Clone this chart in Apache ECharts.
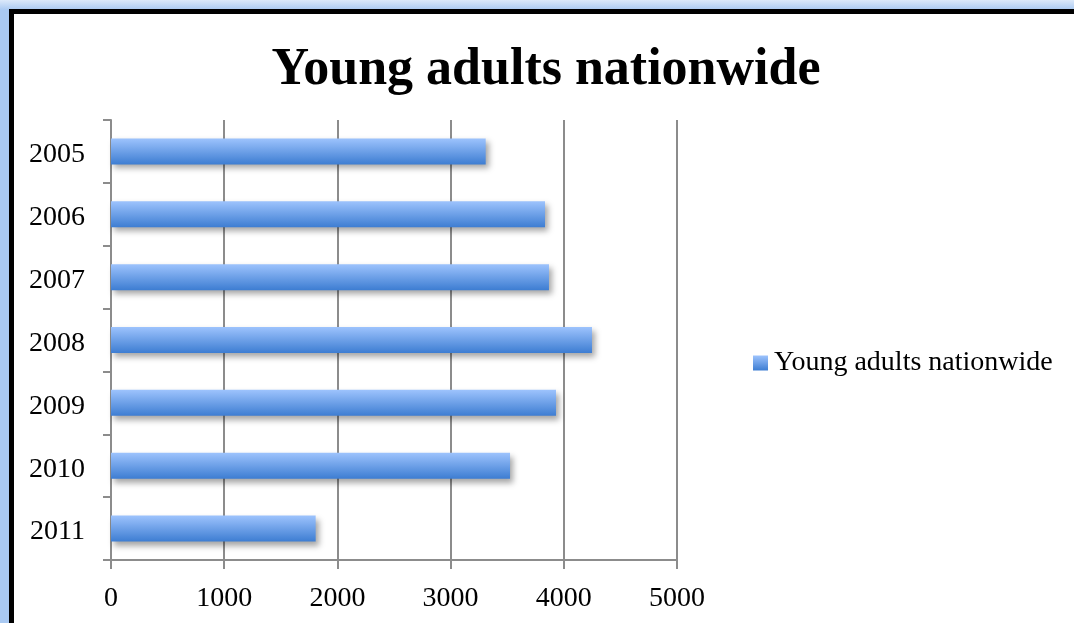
<!DOCTYPE html>
<html>
<head>
<meta charset="utf-8">
<script src="https://cdn.jsdelivr.net/npm/echarts@6/dist/echarts.min.js"></script>
<style>
  html, body { margin: 0; padding: 0; width: 1074px; height: 623px; overflow: hidden; background: #ffffff; }
  #glow { position: absolute; left: 0; top: 0; width: 1074px; height: 623px;
          background: linear-gradient(to bottom, #dce9fa 0px, #a9c9f2 10px, #a9c9f2 100%); }
  #frame { position: absolute; left: 9px; top: 9px; width: 1100px; height: 700px;
           background: #ffffff; border-left: 5px solid #000; border-top: 5px solid #000;
           box-sizing: border-box; }
  #chart { position: absolute; left: 0; top: 0; width: 1074px; height: 623px; }
</style>
</head>
<body>
<div id="glow"></div>
<div id="frame"></div>
<div id="chart"></div>
<script>
const titleText = 'Young adults nationwide';
const seriesName = 'Young adults nationwide';
const years = ['2005', '2006', '2007', '2008', '2009', '2010', '2011'];
const values = [3310, 3834, 3869, 4249, 3931, 3525, 1808];
const xTicks = [0, 1000, 2000, 3000, 4000, 5000];

const FONT = "'Liberation Serif', 'DejaVu Serif', serif";
const chart = echarts.init(document.getElementById('chart'), null, { renderer: 'canvas' });
const barColor = new echarts.graphic.LinearGradient(0, 0, 0, 1, [
  { offset: 0, color: '#9dc3fd' },
  { offset: 1, color: '#3d7dd2' }
]);
chart.setOption({
  backgroundColor: 'transparent',
  animation: false,
  title: {
    text: titleText,
    left: 546,
    textAlign: 'center',
    top: 45,
    padding: 0,
    textStyle: { fontFamily: FONT, fontWeight: 'bold', fontSize: 52, color: '#000' }
  },
  legend: {
    data: [seriesName],
    left: 748,
    top: 344,
    icon: 'rect',
    itemWidth: 15,
    itemHeight: 15,
    itemGap: 5,
    textStyle: { fontFamily: FONT, fontSize: 28, color: '#000', padding: [0, 0, 0, 1] }
  },
  grid: { left: 111, right: 397, top: 120, bottom: 63, containLabel: false },
  xAxis: {
    type: 'value',
    min: xTicks[0],
    max: xTicks[xTicks.length - 1],
    interval: 1000,
    axisLine: { show: true, lineStyle: { color: '#8c8c8c', width: 2 } },
    axisTick: { show: true, length: 9, lineStyle: { color: '#8c8c8c', width: 2 } },
    splitLine: { show: true, lineStyle: { color: '#8c8c8c', width: 2 } },
    axisLabel: { margin: 25, fontFamily: FONT, fontSize: 28, color: '#000',
                 formatter: function (v) { return String(v); } }
  },
  yAxis: {
    type: 'category',
    data: years,
    inverse: true,
    axisLine: { show: true, lineStyle: { color: '#8c8c8c', width: 2 } },
    axisTick: { show: true, length: 8, alignWithLabel: false, lineStyle: { color: '#8c8c8c', width: 2 } },
    axisLabel: {
      margin: 26, fontFamily: FONT, fontSize: 28, color: '#000',
      formatter: '{y|{value}}',
      rich: { y: { fontFamily: FONT, fontSize: 28, color: '#000', padding: [7, 0, 0, 0] } }
    },
    splitLine: { show: false }
  },
  series: [{
    name: seriesName,
    type: 'bar',
    data: values,
    barWidth: 26,
    itemStyle: {
      color: barColor,
      shadowColor: 'rgba(0,0,0,0.35)',
      shadowBlur: 6,
      shadowOffsetX: 3,
      shadowOffsetY: 4
    }
  }]
});
</script>
</body>
</html>
